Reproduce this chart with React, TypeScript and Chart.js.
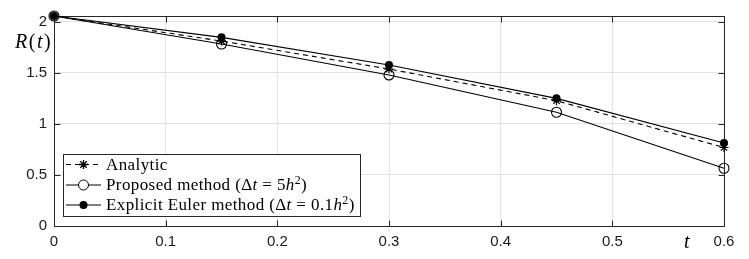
import React, { useEffect, useRef } from "react";
import { Chart, registerables } from "chart.js";
Chart.register(...registerables);

const tValues = [0, 0.15, 0.3, 0.45, 0.6];
const analytic = [2.055, 1.81, 1.536, 1.226, 0.768];
const proposed = [2.055, 1.781, 1.478, 1.113, 0.565];
const euler = [2.055, 1.846, 1.575, 1.249, 0.813];
const xTicks = [0, 0.1, 0.2, 0.3, 0.4, 0.5, 0.6];
const yTicks = [0, 0.5, 1, 1.5, 2];

const SERIF = "'Liberation Serif', 'DejaVu Serif', serif";
const SANS = "'Liberation Sans', Arial, sans-serif";
const AX = "#262626";

type Seg = { t: string; it?: boolean; sup?: boolean };

function drawRich(ctx: CanvasRenderingContext2D, x: number, y: number, segs: Seg[], size: number, spacing = 0) {
  let cx = x;
  ctx.textBaseline = "alphabetic";
  ctx.textAlign = "left";
  (ctx as any).letterSpacing = `${spacing}px`;
  for (const s of segs) {
    const fs = s.sup ? size * 0.7 : size;
    ctx.font = `${s.it ? "italic " : ""}${fs}px ${SERIF}`;
    const yy = s.sup ? y - size * 0.38 : y;
    ctx.fillText(s.t, cx, yy);
    cx += ctx.measureText(s.t).width;
  }
  (ctx as any).letterSpacing = "0px";
}

const legendRows: { label: Seg[]; kind: string }[] = [
  { label: [{ t: "Analytic" }], kind: "star" },
  {
    label: [
      { t: "Proposed method (Δ" },
      { t: "t", it: true },
      { t: " = 5" },
      { t: "h", it: true },
      { t: "2", sup: true },
      { t: ")" },
    ],
    kind: "open",
  },
  {
    label: [
      { t: "Explicit Euler method (Δ" },
      { t: "t", it: true },
      { t: " = 0.1" },
      { t: "h", it: true },
      { t: "2", sup: true },
      { t: ")" },
    ],
    kind: "dot",
  },
];

function drawStar(ctx: CanvasRenderingContext2D, x: number, y: number, r: number) {
  ctx.beginPath();
  for (let i = 0; i < 4; i++) {
    const a = (i * Math.PI) / 4;
    ctx.moveTo(x - r * Math.cos(a), y - r * Math.sin(a));
    ctx.lineTo(x + r * Math.cos(a), y + r * Math.sin(a));
  }
  ctx.stroke();
}

const framePlugin = {
  id: "frame",
  beforeDatasetsDraw(chart: any) {
    const ctx: CanvasRenderingContext2D = chart.ctx;
    const { left, right, top, bottom } = chart.chartArea;
    const xs = chart.scales.x;
    const ys = chart.scales.y;
    ctx.save();
    ctx.strokeStyle = AX;
    ctx.lineWidth = 1;
    const L = Math.round(left) + 0.5;
    const R = Math.round(right) + 0.5;
    const T = Math.round(top) + 0.5;
    const B = Math.round(bottom) + 0.5;
    ctx.beginPath();
    ctx.rect(L, T, R - L, B - T);
    ctx.stroke();
    const tl = 6;
    ctx.beginPath();
    for (const v of xTicks) {
      const px = Math.round(xs.getPixelForValue(v)) + 0.5;
      ctx.moveTo(px, B);
      ctx.lineTo(px, B - tl);
      ctx.moveTo(px, T);
      ctx.lineTo(px, T + tl);
    }
    for (const v of yTicks) {
      const py = Math.round(ys.getPixelForValue(v)) + 0.5;
      ctx.moveTo(L, py);
      ctx.lineTo(L + tl, py);
      ctx.moveTo(R, py);
      ctx.lineTo(R - tl, py);
    }
    ctx.stroke();
    ctx.restore();
  },
  afterDraw(chart: any) {
    const ctx: CanvasRenderingContext2D = chart.ctx;
    ctx.save();
    // axis labels
    ctx.fillStyle = "#000";
    drawRich(ctx, 15, 47.5, [{ t: "R", it: true }, { t: "(" }, { t: "t", it: true }, { t: ")" }], 20, 1.5);
    drawRich(ctx, 684, 248, [{ t: "t", it: true }], 20);

    // legend
    const bx = 63.5, by = 154.5, bw = 297, bh = 62;
    ctx.fillStyle = "#fff";
    ctx.fillRect(bx, by, bw, bh);
    ctx.strokeStyle = AX;
    ctx.lineWidth = 1;
    ctx.strokeRect(bx, by, bw, bh);
    const rowsY = [164.5, 185, 205];
    legendRows.forEach((row, i) => {
      const yy = rowsY[i];
      ctx.strokeStyle = "#000";
      ctx.fillStyle = "#000";
      ctx.lineWidth = 1;
      ctx.setLineDash(row.kind === "star" ? [5, 4] : []);
      ctx.beginPath();
      ctx.moveTo(66, yy);
      ctx.lineTo(101, yy);
      ctx.stroke();
      ctx.setLineDash([]);
      if (row.kind === "star") {
        ctx.lineWidth = 1.3;
        drawStar(ctx, 83.5, yy, 4.5);
      } else if (row.kind === "open") {
        ctx.fillStyle = "#fff";
        ctx.beginPath();
        ctx.arc(83.5, yy, 5, 0, Math.PI * 2);
        ctx.fill();
        ctx.stroke();
      } else {
        ctx.beginPath();
        ctx.arc(83.5, yy, 4, 0, Math.PI * 2);
        ctx.fill();
      }
      ctx.fillStyle = "#000";
      drawRich(ctx, 106, yy + 5, row.label, 17, 0.4);
    });
    ctx.restore();
  },
};

export default function App() {
  const ref = useRef<HTMLCanvasElement>(null);
  useEffect(() => {
    const canvas = ref.current!;
    const mk = (vals: number[]) => tValues.map((t, i) => ({ x: t, y: vals[i] }));
    const chart = new Chart(canvas, {
      type: "scatter",
      data: {
        datasets: [
          {
            label: "Explicit Euler method",
            data: mk(euler),
            showLine: true,
            clip: false,
            borderColor: "#000",
            backgroundColor: "#000",
            borderWidth: 1.1,
            pointStyle: "circle",
            pointRadius: 4,
            pointBorderWidth: 0,
          },
          {
            label: "Analytic",
            data: mk(analytic),
            showLine: true,
            clip: false,
            borderColor: "#000",
            backgroundColor: "#000",
            borderWidth: 1.1,
            borderDash: [5, 4],
            pointStyle: "star",
            pointRadius: 4.5,
            pointBorderWidth: 1.2,
          },
          {
            label: "Proposed method",
            data: mk(proposed),
            showLine: true,
            clip: false,
            borderColor: "#000",
            backgroundColor: "rgba(0,0,0,0)",
            borderWidth: 1.1,
            pointStyle: "circle",
            pointRadius: 5,
            pointBorderWidth: 1.1,
          },
        ],
      },
      options: {
        responsive: false,
        animation: false,
        devicePixelRatio: 1,
        layout: { padding: { left: 0, right: 25, top: 15, bottom: 0 } },
        plugins: { legend: { display: false }, tooltip: { enabled: false } },
        scales: {
          x: {
            type: "linear",
            min: 0,
            max: 0.6,
            afterBuildTicks: (s: any) => {
              s.ticks = xTicks.map((v) => ({ value: v }));
            },
            afterFit: (s: any) => {
              s.height = 33;
            },
            grid: { color: "#e3e3e3", drawTicks: false, lineWidth: 1 },
            border: { display: false },
            ticks: {
              font: { family: SANS, size: 15 },
              color: "#1a1a1a",
              padding: 7,
              maxRotation: 0,
              callback: (v: any) => String(Number(Number(v).toFixed(1))),
            },
          },
          y: {
            type: "linear",
            min: 0,
            max: 2.055,
            afterBuildTicks: (s: any) => {
              s.ticks = yTicks.map((v) => ({ value: v }));
            },
            afterFit: (s: any) => {
              s.width = 54;
            },
            grid: { color: "#e3e3e3", drawTicks: false, lineWidth: 1 },
            border: { display: false },
            ticks: {
              font: { family: SANS, size: 15 },
              color: "#1a1a1a",
              padding: 7,
              callback: (v: any) => String(Number(Number(v).toFixed(1))),
            },
          },
        },
      },
      plugins: [framePlugin],
    });
    return () => chart.destroy();
  }, []);
  return (
    <div style={{ position: "fixed", left: 0, top: 0, width: 749, height: 259, background: "#fff" }}>
      <canvas ref={ref} width={749} height={259} style={{ width: 749, height: 259, display: "block" }} />
    </div>
  );
}
